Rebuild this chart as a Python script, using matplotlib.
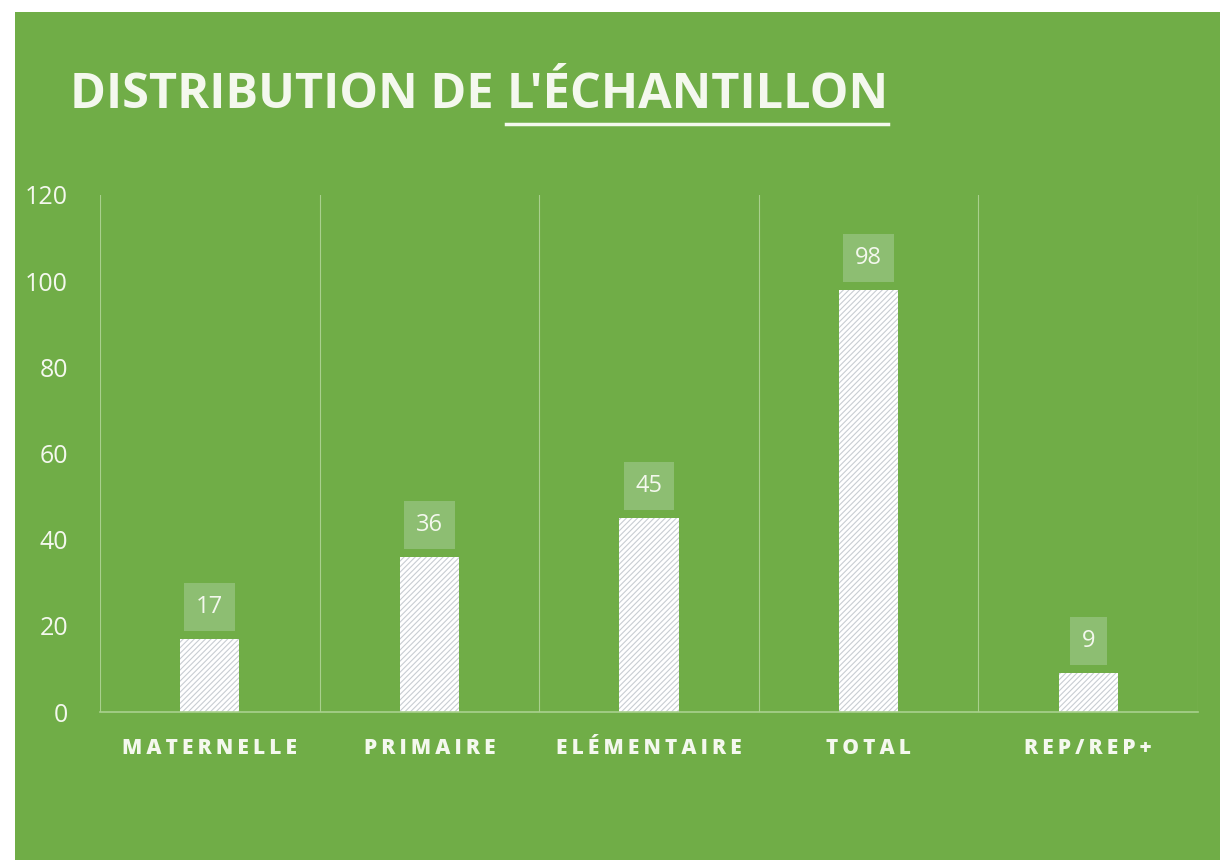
import matplotlib
matplotlib.use("Agg")
import matplotlib.pyplot as plt
from matplotlib.patches import Rectangle
from matplotlib.lines import Line2D

categories = ["MATERNELLE", "PRIMAIRE", "ELÉMENTAIRE", "TOTAL", "REP/REP+"]
values = [17, 36, 45, 98, 9]
yticks = [0, 20, 40, 60, 80, 100, 120]

GREEN = "#70AD47"
LIGHT = "#A9D08E"
FG = "#F4F8EE"

plt.rcParams["font.family"] = ["Open Sans", "DejaVu Sans"]
plt.rcParams["hatch.color"] = "#B8BEC4"
plt.rcParams["hatch.linewidth"] = 0.8

fig = plt.figure(figsize=(12.2, 8.68), dpi=100)
fig.patch.set_facecolor("white")
fig.patches.append(Rectangle((15 / 1220, 8 / 868), 1 - 15 / 1220, 1 - 20 / 868,
                             transform=fig.transFigure, facecolor=GREEN,
                             edgecolor="none", zorder=-5))

ax = fig.add_axes([100 / 1220, 1 - 712 / 868, 1098 / 1220, 517 / 868])
ax.set_facecolor("none")
x = range(len(categories))
ax.bar(x, values, width=0.27, color="white", edgecolor="#C8CDD2", linewidth=0,
       hatch="//////", zorder=2)
ax.set_xlim(-0.5, len(categories) - 0.5)
ax.set_ylim(0, 120)
ax.set_yticks(yticks)
ax.set_yticklabels([str(t) for t in yticks], fontsize=18, color=FG)
ax.set_xticks(list(x))
spaced = ["\u2009".join(c) for c in categories]
ax.set_xticklabels(spaced, fontsize=15, fontweight="heavy", color=FG)
ax.tick_params(axis="both", length=0)
ax.tick_params(axis="y", pad=23)
ax.tick_params(axis="x", pad=19)
for s in ["top", "right", "left"]:
    ax.spines[s].set_visible(False)
ax.spines["bottom"].set_color(LIGHT)
ax.spines["bottom"].set_linewidth(1.2)
for b in [i - 0.5 for i in range(len(categories) + 1)]:
    ax.axvline(b, color=LIGHT, lw=0.8, zorder=1)

for i, v in zip(x, values):
    ax.annotate(str(v), (i, v), xytext=(0, 23), textcoords="offset points",
                ha="center", va="center", fontsize=17, color=FG,
                bbox=dict(boxstyle="square,pad=0.5", fc="#8DBE72", ec="none"))

t1 = fig.text(70 / 1220, 1 - 96 / 868, "DISTRIBUTION DE ", fontsize=35,
              fontweight="bold", color=FG, va="center", ha="left")
fig.canvas.draw()
bb = t1.get_window_extent()
t2 = fig.text(bb.x1 / 1220, 1 - 96 / 868, "L'ÉCHANTILLON", fontsize=35,
              fontweight="bold", color=FG, va="center", ha="left")
fig.canvas.draw()
bb2 = t2.get_window_extent()
fig.lines.append(Line2D([bb2.x0 / 1220, bb2.x1 / 1220], [1 - 124 / 868] * 2,
                        transform=fig.transFigure, color=FG, lw=2.5))

fig.savefig("out.png", dpi=100)
